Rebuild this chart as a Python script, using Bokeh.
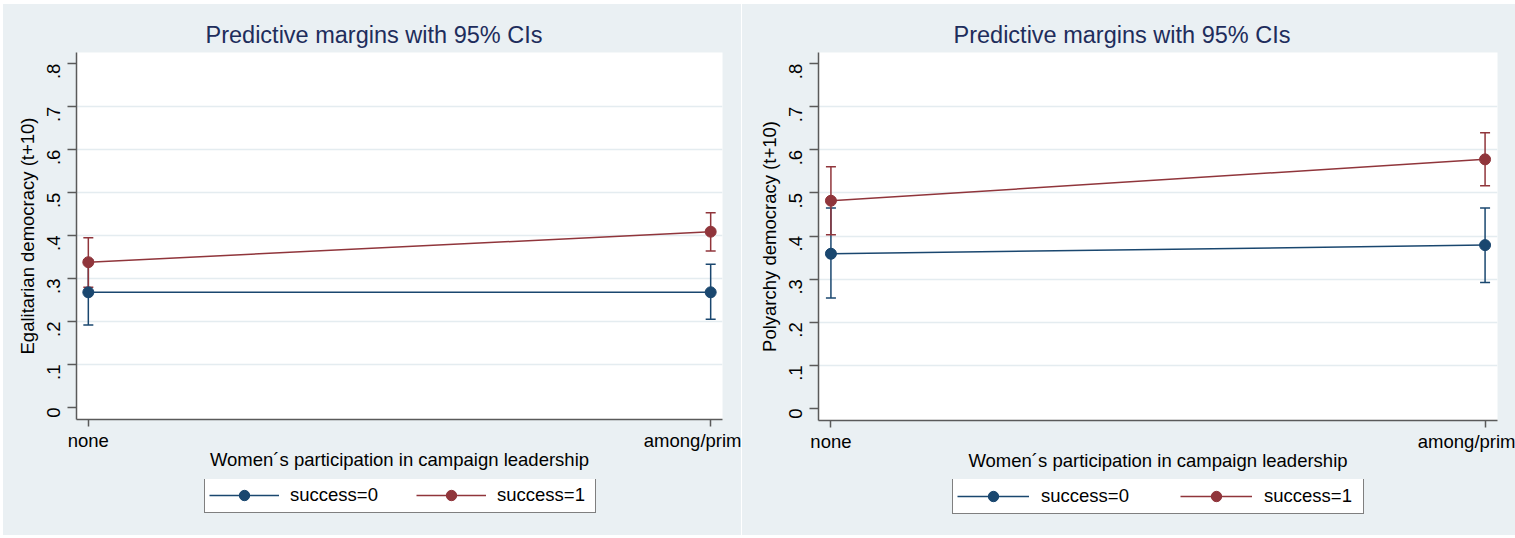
import math
from bokeh.plotting import figure
from bokeh.models import (Range1d, FixedTicker, Whisker, TeeHead, ColumnDataSource,
                          Legend, LegendItem)
from bokeh.layouts import row, column
from bokeh.embed import file_html
from bokeh.resources import INLINE

# ---------------- data ----------------
categories = ["none", "among/prim"]
x_pos = [0, 1]
series_labels = ["success=0", "success=1"]
y_ticks = [0, 0.1, 0.2, 0.3, 0.4, 0.5, 0.6, 0.7, 0.8]
y_tick_labels = ["0", ".1", ".2", ".3", ".4", ".5", ".6", ".7", ".8"]
title_text = "Predictive margins with 95% CIs"
x_label = "Women\u00b4s participation in campaign leadership"

# Left panel: Egalitarian democracy
egal_label = "Egalitarian democracy (t+10)"
egal_s0 = [0.268, 0.268]
egal_s0_lo = [0.192, 0.205]
egal_s0_hi = [0.344, 0.333]
egal_s1 = [0.338, 0.409]
egal_s1_lo = [0.280, 0.364]
egal_s1_hi = [0.395, 0.453]

# Right panel: Polyarchy democracy
poly_label = "Polyarchy democracy (t+10)"
poly_s0 = [0.359, 0.379]
poly_s0_lo = [0.256, 0.292]
poly_s0_hi = [0.465, 0.465]
poly_s1 = [0.482, 0.578]
poly_s1_lo = [0.403, 0.517]
poly_s1_hi = [0.561, 0.640]

# ---------------- style ----------------
BG = "#EAF0F3"
GRID = "#E4ECF0"
AXIS = "#5a5a5a"
TITLE_C = "#1e2d5c"
COLORS = ["#1A476F", "#90353B"]
FONT = "Liberation Sans"
FS = "18.5px"
PLOT_H = 475
LEG_H = 56


def make_panel(ylabel, series, width, borders, title_offset):
    left, right, top, bottom = borders
    p = figure(width=width, height=PLOT_H, output_backend="svg", toolbar_location=None,
               x_range=Range1d(-0.019, 1.019), y_range=Range1d(-0.028, 0.826),
               min_border_left=left, min_border_right=right,
               min_border_top=top, min_border_bottom=bottom,
               background_fill_color="white", border_fill_color=BG,
               outline_line_color=None)

    p.title.text = title_text
    p.title.align = "left"
    p.title.offset = title_offset
    p.title.text_font = FONT
    p.title.text_font_size = "23.5px"
    p.title.text_font_style = "normal"
    p.title.text_color = TITLE_C

    for ax in (p.xaxis[0], p.yaxis[0]):
        ax.axis_line_color = AXIS
        ax.axis_line_width = 1.5
        ax.major_tick_line_color = AXIS
        ax.major_tick_line_width = 1.5
        ax.major_tick_in = 0
        ax.minor_tick_in = 0
        ax.minor_tick_out = 0
        ax.major_label_text_font = FONT
        ax.major_label_text_font_size = FS
        ax.major_label_text_color = "black"
        ax.axis_label_text_font = FONT
        ax.axis_label_text_font_size = FS
        ax.axis_label_text_font_style = "normal"
        ax.axis_label_text_color = "black"

    p.xaxis.ticker = FixedTicker(ticks=x_pos)
    p.xaxis.major_label_overrides = {x: c for x, c in zip(x_pos, categories)}
    p.xaxis.major_tick_out = 7
    p.xaxis.major_label_standoff = 3
    p.xaxis.axis_label = x_label
    p.xaxis.axis_label_standoff = -5

    p.yaxis.ticker = FixedTicker(ticks=y_ticks)
    p.yaxis.major_label_overrides = {t: l for t, l in zip(y_ticks, y_tick_labels)}
    p.yaxis.major_label_orientation = math.pi / 2
    p.yaxis.major_tick_out = 9
    p.yaxis.major_label_standoff = 14
    p.yaxis.axis_label = ylabel
    p.yaxis.axis_label_standoff = 0

    p.xgrid.visible = False
    p.ygrid.ticker = FixedTicker(ticks=y_ticks[1:-1])
    p.ygrid.grid_line_color = GRID
    p.ygrid.grid_line_width = 1.5

    for (mid, lo, hi), color in zip(series, COLORS):
        src = ColumnDataSource(dict(x=x_pos, y=mid, lo=lo, hi=hi))
        w = Whisker(source=src, base="x", lower="lo", upper="hi", dimension="height",
                    line_color=color, line_width=1.5,
                    upper_head=TeeHead(size=10, line_color=color, line_width=1.5),
                    lower_head=TeeHead(size=10, line_color=color, line_width=1.5))
        p.add_layout(w)
        p.line("x", "y", source=src, line_color=color, line_width=1.5)
        p.scatter("x", "y", source=src, size=11, fill_color=color, line_color=color)
    return p


def make_legend(width, loc, glyph_w, standoff, lab_w, spacing):
    lf = figure(width=width, height=LEG_H, output_backend="svg", toolbar_location=None,
                x_range=Range1d(0, 1), y_range=Range1d(0, 1),
                x_axis_location=None, y_axis_location=None,
                min_border_left=0, min_border_right=0, min_border_top=0, min_border_bottom=0,
                background_fill_color=BG, border_fill_color=BG, outline_line_color=None)
    lf.grid.visible = False
    items = []
    for color, lab in zip(COLORS, series_labels):
        # key-only renderers, positioned outside the visible range
        off = ColumnDataSource(dict(x=[-10, -9], y=[-10, -10]))
        ln = lf.line("x", "y", source=off, line_color=color, line_width=1.5)
        sc = lf.scatter("x", "y", source=off, size=11, fill_color=color, line_color=color)
        items.append(LegendItem(label=lab, renderers=[ln, sc]))
    legend = Legend(items=items, orientation="horizontal", location=loc,
                    glyph_width=glyph_w, glyph_height=26, label_standoff=standoff,
                    label_width=lab_w, spacing=spacing, padding=4, margin=0,
                    border_line_color="black", border_line_width=1,
                    background_fill_color="white", background_fill_alpha=1.0,
                    label_text_font=FONT, label_text_font_size=FS,
                    label_text_color="black", label_height=21)
    lf.add_layout(legend, "center")
    return lf


p1 = make_panel(egal_label,
                [(egal_s0, egal_s0_lo, egal_s0_hi), (egal_s1, egal_s1_lo, egal_s1_hi)],
                738, (73, 19, 48, PLOT_H - 415), 129)
l1 = make_legend(738, (128, 22), 70, 11, 94, 32)
p2 = make_panel(poly_label,
                [(poly_s0, poly_s0_lo, poly_s0_hi), (poly_s1, poly_s1_lo, poly_s1_hi)],
                773, (76, 18, 48, PLOT_H - 416), 135)
l2 = make_legend(773, (134, 21), 72, 12, 95, 44)

c1 = column(p1, l1, spacing=0, margin=(4, 0, 3, 3), styles={"background-color": BG})
c2 = column(p2, l2, spacing=0, margin=(4, 0, 3, 1), styles={"background-color": BG})
layout = row(c1, c2, spacing=0)
open("out.html", "w").write(file_html(layout, INLINE))
